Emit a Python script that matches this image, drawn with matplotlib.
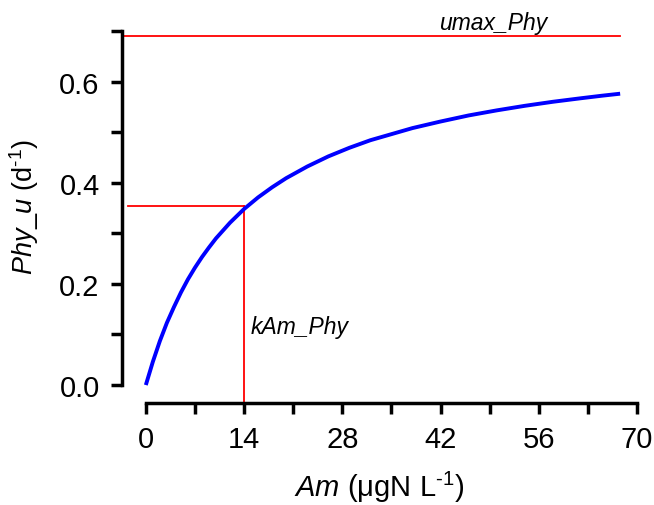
import matplotlib
matplotlib.use("Agg")
import matplotlib.pyplot as plt

plt.rcParams["font.family"] = ["Liberation Sans", "DejaVu Sans"]
plt.rcParams["mathtext.fontset"] = "custom"
plt.rcParams["mathtext.rm"] = "Liberation Sans"
plt.rcParams["mathtext.it"] = "Liberation Sans:italic"

# Phytoplankton uptake rate vs ammonium concentration
am = [0, 1, 2, 3, 4, 5, 6, 7, 8, 9, 10, 12, 14, 16, 18, 20, 23, 26, 29,
      32, 35, 38, 42, 46, 50, 54, 58, 62, 65, 67.6]
phy_u = [0.000, 0.046, 0.087, 0.123, 0.154, 0.183, 0.209, 0.232, 0.253,
         0.272, 0.290, 0.321, 0.348, 0.371, 0.391, 0.409, 0.432, 0.452,
         0.469, 0.484, 0.496, 0.508, 0.521, 0.533, 0.543, 0.552, 0.560,
         0.567, 0.572, 0.576]

umax_phy = 0.69
kam_phy = 14
half_u = 0.354

x_ticks = [0, 14, 28, 42, 56, 70]
y_ticks = [0.0, 0.2, 0.4, 0.6]

fig = plt.figure(figsize=(6.54, 5.06), dpi=100)
ax = fig.add_axes([0.1865, 0.2016, 0.974 - 0.1865, 0.9368 - 0.2016])
x_lo, y_lo = -3.4, -0.0355
ax.set_xlim(x_lo, 70)
ax.set_ylim(y_lo, 0.7)

ax.plot(am, phy_u, color="#0000ff", lw=2.8, solid_capstyle="butt", zorder=3)

# umax reference line
ax.plot([x_lo, am[-1]], [umax_phy, umax_phy], color="#ff0000", lw=1.3, zorder=2)
ax.text(49.5, umax_phy + 0.005, "umax_Phy", style="italic", fontsize=16.5,
        ha="center", va="bottom")

# half-saturation reference lines
ax.plot([-2.6, kam_phy], [half_u, half_u], color="#ff0000", lw=1.3, zorder=2)
ax.plot([kam_phy, kam_phy], [y_lo, half_u], color="#ff0000", lw=1.3, zorder=2)
ax.text(kam_phy + 1.0, 0.116, "kAm_Phy", style="italic", fontsize=16.5,
        ha="left", va="center")

for side in ("top", "right"):
    ax.spines[side].set_visible(False)
for side in ("left", "bottom"):
    ax.spines[side].set_linewidth(2.5)
ax.spines["left"].set_bounds(0, 0.7)
ax.spines["bottom"].set_bounds(0, 70)

ax.set_xticks(x_ticks)
ax.set_xticks([7, 21, 35, 49, 63], minor=True)
ax.set_yticks(y_ticks)
ax.set_yticks([0.1, 0.3, 0.5, 0.7], minor=True)
ax.set_yticklabels([f"{v:.1f}" for v in y_ticks])
ax.tick_params(which="both", direction="out", length=8, width=2.5, color="black")
ax.tick_params(axis="both", which="major", labelsize=21)
ax.tick_params(axis="x", which="major", pad=8)
ax.tick_params(axis="y", which="major", pad=8)

ax.set_xlabel(r"$\mathit{Am}$ ($\mathrm{\mu}$gN L$^{\text{-1}}$)", fontsize=21,
              labelpad=11)
ax.set_ylabel(r"$\mathit{Phy\_u}$ (d$^{\text{-1}}$)", fontsize=19.5)
ax.yaxis.set_label_coords(-0.157, 0.53)

fig.savefig("out.png", dpi=100)
